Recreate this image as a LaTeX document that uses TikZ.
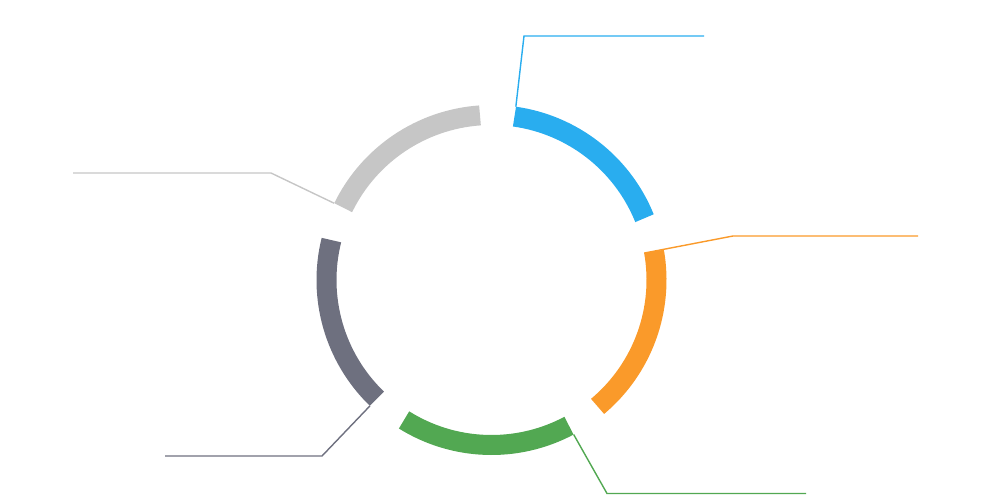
\documentclass[tikz,border=0pt]{standalone}
\usepackage{tikz}
\usetikzlibrary{positioning}

\definecolor{segblue}{HTML}{29ADEF}
\definecolor{seggray}{HTML}{C6C6C6}
\definecolor{segdark}{HTML}{6E707F}
\definecolor{seggreen}{HTML}{52A852}
\definecolor{segorange}{HTML}{FA9A2A}

\tikzset{
  segment/.style={line width=0.4cm},
  leader/.style={line width=0.8pt}
}

\begin{document}
\begin{tikzpicture}
\useasboundingbox (0,0) rectangle (20,9.92);
\coordinate (O) at (9.83,4.32);

% Segments
\draw[segment, segblue] ([shift={(22:3.3)}]O) arc[start angle=22, end angle=82, radius=3.3];
\draw[segment, seggray] ([shift={(94:3.3)}]O) arc[start angle=94, end angle=154, radius=3.3];
\draw[segment, segdark] ([shift={(166:3.3)}]O) arc[start angle=166, end angle=226, radius=3.3];
\draw[segment, seggreen] ([shift={(238:3.3)}]O) arc[start angle=238, end angle=298, radius=3.3];
\draw[segment, segorange] ([shift={(310:3.3)}]O) arc[start angle=310, end angle=370, radius=3.3];

% Segment ends
\coordinate (blueEnd) at ([shift={(82:3.5)}]O);
\coordinate (grayEnd) at ([shift={(154:3.5)}]O);
\coordinate (darkEnd) at ([shift={(226:3.5)}]O);
\coordinate (greenEnd) at ([shift={(298:3.5)}]O);
\coordinate (orangeEnd) at ([shift={(10:3.1)}]O);

% Leader bends and ends
\coordinate (blueBend) at (10.48,9.2);
\coordinate (blueTip) at (14.08,9.2);
\coordinate (orangeBend) at (14.66,5.2);
\coordinate (orangeTip) at (18.36,5.2);
\coordinate (grayBend) at (5.42,6.46);
\coordinate (grayTip) at (1.46,6.46);
\coordinate (darkBend) at (6.44,0.8);
\coordinate (darkTip) at (3.3,0.8);
\coordinate (greenBend) at (12.14,0.05);
\coordinate (greenTip) at (16.12,0.05);

% Leaders
\draw[leader, segblue] (blueEnd) -- (blueBend) -- (blueTip);
\draw[leader, segorange] (orangeEnd) -- (orangeBend) -- (orangeTip);
\draw[leader, seggray] (grayEnd) -- (grayBend) -- (grayTip);
\draw[leader, segdark] (darkEnd) -- (darkBend) -- (darkTip);
\draw[leader, seggreen] (greenEnd) -- (greenBend) -- (greenTip);

\end{tikzpicture}
\end{document}
